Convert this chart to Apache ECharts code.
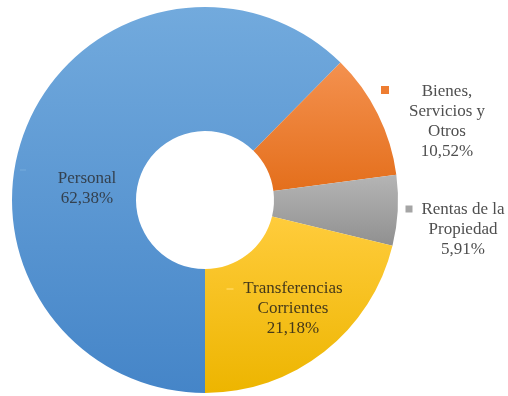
<!DOCTYPE html>
<html>
<head>
<meta charset="utf-8">
<script src="https://cdn.jsdelivr.net/npm/echarts@6/dist/echarts.min.js"></script>
<style>
html,body{margin:0;padding:0;background:#fff;}
#c{width:508px;height:396px;}
</style>
</head>
<body>
<div id="c"></div>
<script>
// Data
var categories = ['Personal', 'Bienes,\nServicios y\nOtros', 'Rentas de la\nPropiedad', 'Transferencias\nCorrientes'];
var percents = [62.38, 10.52, 5.91, 21.18];
var percentLabels = ['62,38%', '10,52%', '5,91%', '21,18%'];

// Styles
var gradTop = ['#72AADD', '#F4914F', '#B5B5B5', '#FFCC3C'];
var gradBot = ['#4585C8', '#E46F1C', '#909090', '#EDB500'];
var keyColors = ['#6AA3D8', '#EE7D31', '#A5A5A5', '#FFD24D'];
var keySize = [[6, 2], [8, 8], [7, 7], [7, 2]];
var labelPos = [[87, 189], [447, 122], [463, 230], [293, 309]];
var keyPos = [[23, 170], [385, 90], [409, 209], [230, 289]];
var labelColors = ['#34414F', '#4F4F4F', '#4F4F4F', '#45391A'];
var serif = 'Liberation Serif';

var chart = echarts.init(document.getElementById('c'), null, {renderer: 'canvas'});

var mainData = percents.map(function (v, i) {
  return {
    value: v,
    name: categories[i],
    itemStyle: {
      color: new echarts.graphic.LinearGradient(0, 0, 0, 1, [
        {offset: 0, color: gradTop[i]},
        {offset: 1, color: gradBot[i]}
      ])
    },
    label: {color: labelColors[i]}
  };
});

var keyData = percents.map(function (v, i) {
  return {
    value: v,
    name: categories[i],
    label: {
      rich: {
        k: {backgroundColor: keyColors[i], width: keySize[i][0], height: keySize[i][1]}
      }
    }
  };
});

var option = {
  animation: false,
  backgroundColor: '#ffffff',
  series: [
    {
      type: 'pie',
      center: [205, 200],
      radius: [69, 193],
      startAngle: -90,
      clockwise: true,
      silent: true,
      data: mainData,
      label: {
        show: true,
        position: 'inside',
        fontFamily: serif,
        fontSize: 17,
        lineHeight: 20,
        align: 'center',
        formatter: function (p) {
          return p.name + '\n' + percentLabels[p.dataIndex];
        }
      },
      labelLine: {show: false},
      labelLayout: function (p) {
        var pos = labelPos[p.dataIndex];
        return {x: pos[0], y: pos[1], align: 'center', verticalAlign: 'middle'};
      }
    },
    {
      type: 'pie',
      center: [205, 200],
      radius: [69, 193],
      startAngle: -90,
      clockwise: true,
      silent: true,
      data: keyData,
      itemStyle: {color: 'rgba(0,0,0,0)'},
      label: {
        show: true,
        position: 'inside',
        formatter: '{k|}'
      },
      labelLine: {show: false},
      labelLayout: function (p) {
        var pos = keyPos[p.dataIndex];
        return {x: pos[0], y: pos[1], align: 'center', verticalAlign: 'middle'};
      }
    }
  ]
};

chart.setOption(option);
</script>
</body>
</html>
